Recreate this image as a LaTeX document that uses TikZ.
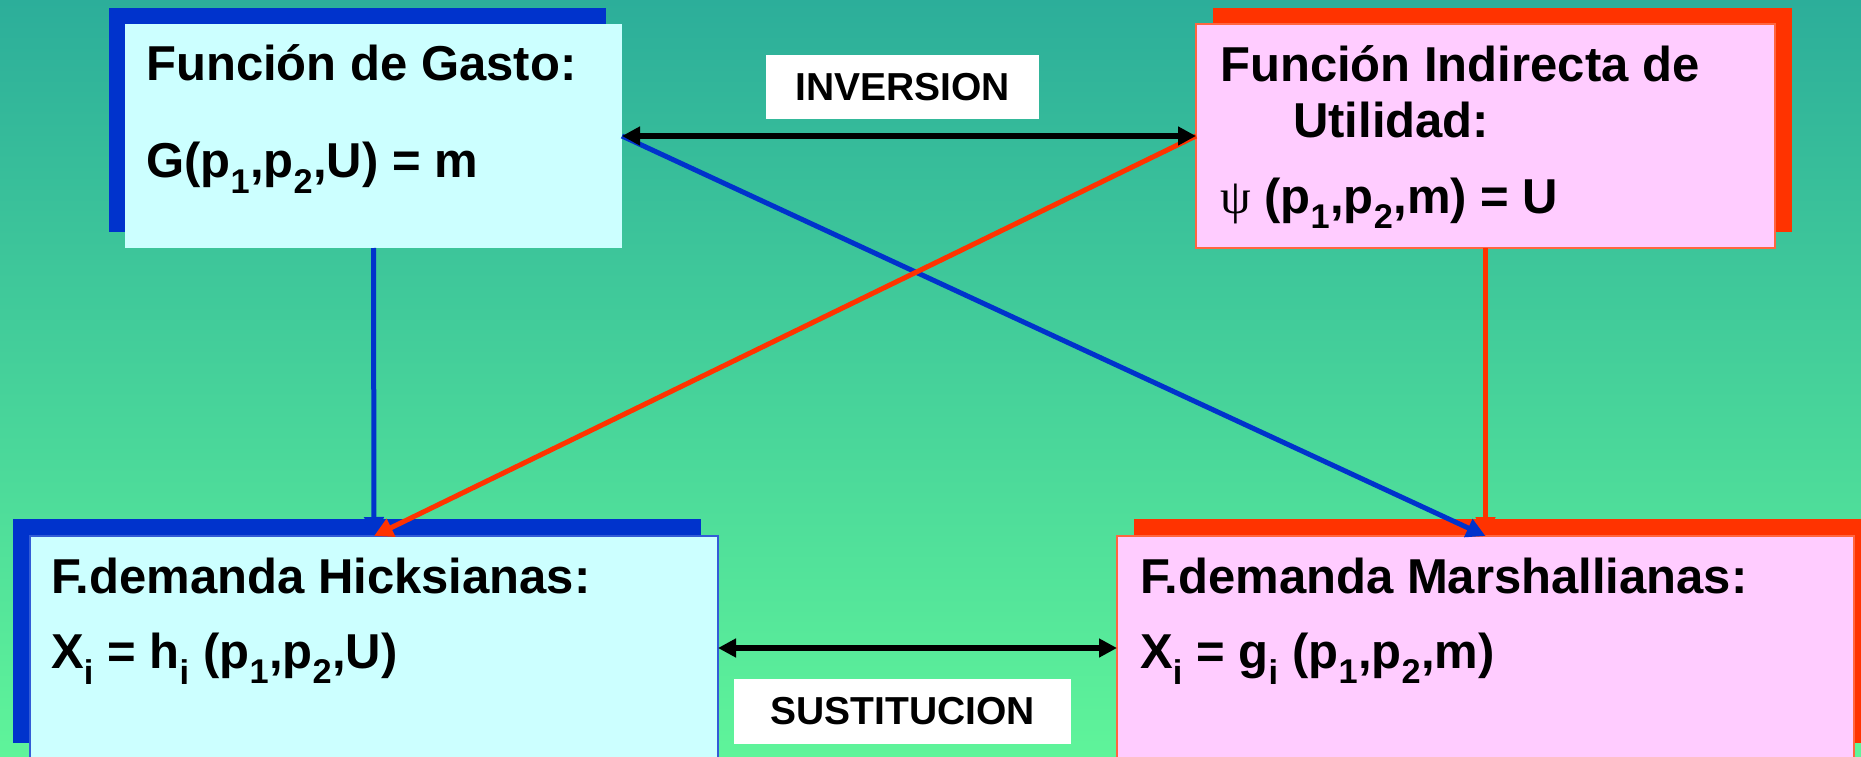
\documentclass[tikz,border=0pt]{standalone}
\usepackage{fontspec}
\setmainfont{Liberation Sans}
\newfontfamily\symbolfont{Liberation Serif}
\usepackage{tikz}
\usetikzlibrary{arrows.meta, shadows, positioning}

\definecolor{bgtop}{RGB}{44,174,154}
\definecolor{bgbottom}{RGB}{95,244,154}
\definecolor{boxblue}{RGB}{0,51,204}
\definecolor{boxred}{RGB}{255,51,0}
\definecolor{lightcyan}{RGB}{204,255,255}
\definecolor{lightpink}{RGB}{255,204,255}

\begin{document}
\begin{tikzpicture}[x=1pt, y=-1pt,
		% Style des cadres (fond clair + ombre colorée)
		funcbox/.style={
			fill=#1,
			anchor=north west,
			inner sep=0pt,
			outer sep=0pt,
			minimum height=224pt,
		},
		% Style du texte dans les cadres
		boxtext/.style={
			anchor=base west,
			inner sep=0pt,
			font=\fontsize{49}{59}\selectfont\bfseries,
			text=black
		},
		% Style des étiquettes blanches
		tagbox/.style={
			fill=white,
			inner sep=0pt,
			font=\fontsize{39}{47}\selectfont\bfseries,
			text=black
		},
		% Style des flèches
		linkarrow/.style={
			->,
			>={Triangle[length=19pt,width=19pt]},
			line width=5pt,
			draw=#1
		},
		bothwayarrow/.style={
			<->,
			>={Triangle[length=18pt,width=18pt]},
			line width=6pt,
			draw=black
		}
		]
		% --- FOND ---
		\useasboundingbox (0,0) rectangle (1861,757);
		\shade[top color=bgtop, bottom color=bgbottom] (0,0) rectangle (1861,757);
		
		% --- CADRES ---
		\node[funcbox=lightcyan, minimum width=497pt,
			general shadow={fill=boxblue, shadow xshift=-16pt, shadow yshift=16pt}]
			(gasto) at (125,24) {};
		\node[funcbox=lightpink, minimum width=579pt, draw=boxred!75, line width=2pt,
			general shadow={fill=boxred, shadow xshift=17pt, shadow yshift=16pt}]
			(indirecta) at (1196,24) {};
		\node[funcbox=lightcyan, minimum width=688pt, draw=boxblue!80!white, line width=2pt,
			general shadow={fill=boxblue, shadow xshift=-17pt, shadow yshift=17pt}]
			(hicks) at (30,536) {};
		\node[funcbox=lightpink, minimum width=737pt, draw=boxred!75, line width=2pt,
			general shadow={fill=boxred, shadow xshift=17pt, shadow yshift=17pt}]
			(marshall) at (1117,536) {};
		
		% --- TEXTES ---
		\node[boxtext] (gasto1) at ([shift={(21,57)}]gasto.north west) {Función de Gasto:};
		\node[boxtext] (gasto2) at ([shift={(21,154)}]gasto.north west)
			{G(p\textsubscript{1},p\textsubscript{2},U) = m};
		
		\node[boxtext] (indirecta1) at ([shift={(24,58)}]indirecta.north west) {Función Indirecta de};
		\node[boxtext] (indirecta2) at ([shift={(97,114)}]indirecta.north west) {Utilidad:};
		\node[boxtext] (indirecta3) at ([shift={(24,189)}]indirecta.north west)
			{{\symbolfont\mdseries ψ} (p\textsubscript{1},p\textsubscript{2},m) = U};
		
		\node[boxtext] (hicks1) at ([shift={(21,57)}]hicks.north west) {F.demanda Hicksianas:};
		\node[boxtext] (hicks2) at ([shift={(21,132)}]hicks.north west)
			{X\textsubscript{i} = h\textsubscript{i} (p\textsubscript{1},p\textsubscript{2},U)};
		
		\node[boxtext] (marshall1) at ([shift={(23,57)}]marshall.north west) {F.demanda Marshallianas:};
		\node[boxtext] (marshall2) at ([shift={(23,132)}]marshall.north west)
			{X\textsubscript{i} = g\textsubscript{i} (p\textsubscript{1},p\textsubscript{2},m)};
		
		% --- ÉTIQUETTES ---
		\node[tagbox, minimum width=273pt, minimum height=64pt] (inversion) at (902.5,87) {INVERSION};
		\node[tagbox, minimum width=337pt, minimum height=65pt] (sustitucion) at (902.5,711.5) {SUSTITUCION};
		
		% --- FLÈCHES ---
		\draw[linkarrow=boxblue] (gasto.south) -- (hicks.north);
		\draw[linkarrow=boxred] (indirecta.south) -- (marshall.north);
		\draw[linkarrow=boxblue] (gasto.east) -- (marshall.north);
		\draw[linkarrow=boxred] (indirecta.west) -- (hicks.north);
		
		\draw[bothwayarrow] (gasto.east) -- (indirecta.west);
		\draw[bothwayarrow] (hicks.east) -- (marshall.west);
		
	\end{tikzpicture}
\end{document}
